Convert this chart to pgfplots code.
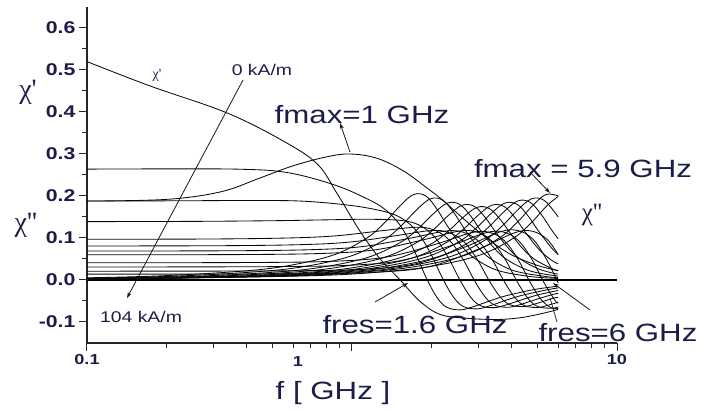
\documentclass[border=0pt]{standalone}
\usepackage{pgfplots}
\pgfplotsset{compat=1.18}
\usepackage{fontspec}
\setmainfont{Liberation Sans}[FakeStretch=1.25]
\newfontfamily\chifont{Liberation Serif}[Ligatures=TeXOff]
\usetikzlibrary{arrows.meta}
\definecolor{txt}{RGB}{28,28,72}
\definecolor{crv}{RGB}{10,10,10}
\newcommand{\fsz}[1]{\fontsize{#1}{#1}\selectfont}
\tikzset{cv/.style={crv, line width=0.85pt, smooth, tension=0.6, mark=none}}

\begin{document}
\begin{tikzpicture}
\useasboundingbox (-87pt,-69pt) rectangle (614pt,343pt);
\begin{axis}[
    scale only axis, width=530pt, height=336pt,
    xmode=log, xmin=0.1, xmax=10, ymin=-0.15, ymax=0.65,
    axis lines=left, axis line style={-, line width=1.2pt, black!85},
    tick align=outside,
    major tick length=8pt, minor tick length=5pt,
    tick style={line width=1pt, black!85},
    xtick={0.1,1,10}, xticklabels={0.1,{},10},
    minor xtick={0.2,0.3,0.4,0.5,0.6,0.7,0.8,0.9,2,3,4,5,6,7,8,9},
    ytick={-0.1,0,0.1,0.2,0.3,0.4,0.5,0.6},
    yticklabels={-0.1,0.0,0.1,0.2,0.3,0.4,0.5,0.6},
    minor ytick={-0.05,0.05,0.15,0.25,0.35,0.45,0.55},
    yticklabel style={font=\bfseries\fsz{17}, text=txt},
    xticklabel style={font=\bfseries\fsz{14.5}, text=txt},
]
% zero line
\addplot[line width=1.5pt, black] coordinates {(0.1,0) (10,0)};

% 0 kA/m: chi' and chi''
\addplot[cv] coordinates {(0.1,0.52) (0.173,0.462) (0.337,0.398) (0.55,0.331) (0.74,0.276) (0.88,0.205) (1.07,0.117) (1.27,0.052) (1.52,0) (1.8,-0.05) (2.15,-0.082) (2.7,-0.091) (3.5,-0.094) (4.3,-0.09) (5.2,-0.08) (6.0,-0.07)};
\addplot[cv] coordinates {(0.1,0.188) (0.2,0.192) (0.32,0.21) (0.45,0.243) (0.6,0.272) (0.8,0.293) (0.98,0.30) (1.24,0.29) (1.56,0.26) (1.92,0.219) (2.2,0.19) (2.7,0.14) (3.3,0.095) (4,0.06) (5,0.035) (6,0.022)};

% chi' for increasing field
\addplot[cv] coordinates {(0.1,0.264) (0.19,0.2645) (0.38,0.2637) (0.57,0.2558) (0.855,0.2268) (1.14,0.1933) (1.33,0.1684) (1.52,0.1301) (1.71,0.0722) (1.9,0.0073) (2.09,-0.0411) (2.28,-0.0649) (2.565,-0.0711) (2.85,-0.0642) (3.325,-0.0494) (3.8,-0.0378) (4.75,-0.024) (5.7,-0.0164) (6,-0.015)};
\addplot[cv] coordinates {(0.1,0.188) (0.22,0.1886) (0.44,0.1893) (0.66,0.1875) (0.99,0.1775) (1.32,0.1632) (1.54,0.147) (1.76,0.1153) (1.98,0.0632) (2.2,0.0032) (2.42,-0.0416) (2.64,-0.0635) (2.97,-0.0687) (3.3,-0.0617) (3.85,-0.0473) (4.4,-0.0362) (5.5,-0.0228) (6,-0.019)};
\addplot[cv] coordinates {(0.1,0.139) (0.255,0.1396) (0.51,0.1412) (0.765,0.143) (1.15,0.1446) (1.53,0.1418) (1.785,0.1312) (2.04,0.104) (2.295,0.0564) (2.55,0.0008) (2.805,-0.041) (3.06,-0.0613) (3.44,-0.0658) (3.825,-0.0591) (4.46,-0.0452) (5.1,-0.0345) (6,-0.025)};
\addplot[cv] coordinates {(0.1,0.097) (0.29,0.0976) (0.58,0.1001) (0.87,0.1052) (1.305,0.1175) (1.74,0.1255) (2.03,0.1196) (2.32,0.0961) (2.61,0.0516) (2.9,-0.0015) (3.19,-0.0414) (3.48,-0.0606) (3.915,-0.0647) (4.35,-0.0578) (5.075,-0.0441) (5.8,-0.0335) (6,-0.0325)};
\addplot[cv] coordinates {(0.1,0.081) (0.33,0.0817) (0.66,0.0844) (0.99,0.0906) (1.485,0.1061) (1.98,0.1176) (2.31,0.1134) (2.64,0.0917) (2.97,0.0489) (3.3,-0.0022) (3.63,-0.0408) (3.96,-0.0593) (4.455,-0.0631) (4.95,-0.0563) (5.775,-0.043) (6,-0.042)};
\addplot[cv] coordinates {(0.1,0.069) (0.375,0.0697) (0.75,0.0728) (1.125,0.0805) (1.69,0.1006) (2.25,0.1164) (2.625,0.1138) (3.0,0.0924) (3.375,0.0491) (3.75,-0.0031) (4.125,-0.0426) (4.5,-0.0615) (5.06,-0.0652) (5.625,-0.0582) (6,-0.0525)};
\addplot[cv] coordinates {(0.1,0.06) (0.42,0.0607) (0.84,0.0641) (1.26,0.0731) (1.89,0.0968) (2.52,0.1161) (2.94,0.1148) (3.36,0.0936) (3.78,0.0496) (4.2,-0.0039) (4.62,-0.0442) (5.04,-0.0636) (5.67,-0.0672) (6,-0.064)};
\addplot[cv] coordinates {(0.1,0.041) (0.47,0.0418) (0.94,0.0458) (1.41,0.0568) (2.115,0.087) (2.82,0.1125) (3.29,0.1137) (3.76,0.0935) (4.23,0.0491) (4.7,-0.0052) (5.17,-0.0463) (5.64,-0.066) (6,-0.068)};
\addplot[cv] coordinates {(0.1,0.031) (0.53,0.0319) (1.06,0.0362) (1.59,0.0485) (2.385,0.0827) (3.18,0.112) (3.71,0.1145) (4.24,0.0945) (4.77,0.0495) (5.3,-0.006) (5.83,-0.0481) (6,-0.055)};
\addplot[cv] coordinates {(0.1,0.021) (0.6,0.0219) (1.2,0.0268) (1.8,0.0408) (2.7,0.08) (3.6,0.1141) (4.2,0.1181) (4.8,0.098) (5.4,0.051) (6.0,-0.007)};
\addplot[cv] coordinates {(0.1,0.014) (0.68,0.0149) (1.36,0.0199) (2.04,0.0346) (3.06,0.0758) (4.08,0.1118) (4.76,0.1166) (5.44,0.0971) (6.0,0.0605)};

% chi'' for increasing field
\addplot[cv] coordinates {(0.1,0.0052) (0.19,0.0099) (0.38,0.0208) (0.57,0.0337) (0.855,0.060) (1.14,0.1003) (1.33,0.1371) (1.52,0.1769) (1.71,0.2037) (1.9,0.200) (2.09,0.1692) (2.28,0.1308) (2.565,0.0843) (2.85,0.0552) (3.325,0.0298) (3.8,0.0179) (4.75,0.008) (5.7,0.0043) (6,0.004)};
\addplot[cv] coordinates {(0.1,0.0042) (0.22,0.0094) (0.44,0.0198) (0.66,0.032) (0.99,0.057) (1.32,0.0953) (1.54,0.1303) (1.76,0.1681) (1.98,0.1935) (2.2,0.19) (2.42,0.1608) (2.64,0.1242) (2.97,0.0801) (3.3,0.0524) (3.85,0.0283) (4.4,0.017) (5.5,0.0076) (6,0.0057)};
\addplot[cv] coordinates {(0.1,0.0035) (0.255,0.0089) (0.51,0.0187) (0.765,0.0303) (1.15,0.054) (1.53,0.0903) (1.785,0.1234) (2.04,0.1592) (2.295,0.1833) (2.55,0.18) (2.805,0.1523) (3.06,0.1177) (3.44,0.0759) (3.825,0.0496) (4.46,0.0268) (5.1,0.0161) (6,0.0094)};
\addplot[cv] coordinates {(0.1,0.003) (0.29,0.0087) (0.58,0.0182) (0.87,0.0295) (1.305,0.0525) (1.74,0.0878) (2.03,0.12) (2.32,0.1548) (2.61,0.1782) (2.9,0.175) (3.19,0.1481) (3.48,0.1144) (3.915,0.0738) (4.35,0.0483) (5.075,0.0261) (5.8,0.0156) (6,0.0145)};
\addplot[cv] coordinates {(0.1,0.0025) (0.33,0.0084) (0.66,0.0177) (0.99,0.0286) (1.485,0.051) (1.98,0.0853) (2.31,0.1166) (2.64,0.1504) (2.97,0.1731) (3.3,0.17) (3.63,0.1439) (3.96,0.1112) (4.455,0.0717) (4.95,0.0469) (5.775,0.0253) (6,0.0235)};
\addplot[cv] coordinates {(0.1,0.0023) (0.375,0.0087) (0.75,0.0182) (1.125,0.0295) (1.69,0.0525) (2.25,0.0878) (2.625,0.12) (3.0,0.1548) (3.375,0.1782) (3.75,0.175) (4.125,0.1481) (4.5,0.1144) (5.06,0.0738) (5.625,0.0483) (6,0.0385)};
\addplot[cv] coordinates {(0.1,0.0021) (0.42,0.0089) (0.84,0.0187) (1.26,0.0303) (1.89,0.054) (2.52,0.0903) (2.94,0.1234) (3.36,0.1592) (3.78,0.1833) (4.2,0.18) (4.62,0.1523) (5.04,0.1177) (5.67,0.0759) (6,0.061)};
\addplot[cv] coordinates {(0.1,0.0019) (0.47,0.0092) (0.94,0.0193) (1.41,0.0312) (2.115,0.0555) (2.82,0.0928) (3.29,0.1269) (3.76,0.1636) (4.23,0.1884) (4.7,0.185) (5.17,0.1565) (5.64,0.121) (6,0.098)};
\addplot[cv] coordinates {(0.1,0.0018) (0.53,0.0094) (1.06,0.0198) (1.59,0.032) (2.385,0.057) (3.18,0.0953) (3.71,0.1303) (4.24,0.1681) (4.77,0.1935) (5.3,0.19) (5.83,0.1608) (6,0.150)};
\addplot[cv] coordinates {(0.1,0.0016) (0.6,0.0099) (1.2,0.0208) (1.8,0.0337) (2.7,0.060) (3.6,0.1003) (4.2,0.1371) (4.8,0.1769) (5.4,0.2037) (6.0,0.200)};
\addplot[cv] coordinates {(0.1,0.0014) (0.68,0.0099) (1.36,0.0208) (2.04,0.0337) (3.06,0.060) (4.08,0.1003) (4.76,0.1371) (5.44,0.1769) (6.0,0.199)};
\end{axis}

% annotations (pt offsets from the lower left corner of the axis)
\begin{scope}[every node/.style={inner sep=0pt, text=txt}]
\node[font=\bfseries\fsz{14.5}] at (211pt,-19pt) {1};
\node[font=\fsz{25}] at (246pt,-50pt) {f [ GHz ]};
\node[font=\chifont\fsz{28}] at (-59pt,251pt) {χ'};
\node[font=\chifont\fsz{28}] at (-61pt,118pt) {χ''};
\node[font=\chifont\fsz{14}] at (70pt,268pt) {χ'};
\node[font=\fsz{15.5}] at (175pt,273pt) {0 kA/m};
\node[font=\fsz{15.5}] at (54pt,26pt) {104 kA/m};
\node[font=\fsz{25}] at (275pt,228pt) {fmax=1 GHz};
\node[font=\fsz{25}] at (496pt,174pt) {fmax = 5.9 GHz};
\node[font=\chifont\fsz{25}] at (505pt,128pt) {χ''};
\node[font=\fsz{25}] at (328pt,18pt) {fres=1.6 GHz};
\node[font=\fsz{25}] at (531pt,10pt) {fres=6 GHz};
\end{scope}
\begin{scope}[line width=0.8pt, black!90, -{Stealth[length=6pt,width=4pt]}]
\draw (156pt,263pt) -- (40pt,45pt);
\draw (263pt,191pt) -- (253pt,220pt);
\draw (443pt,171pt) -- (463pt,150pt);
\draw (288pt,41pt) -- (321pt,60pt);
\draw (503pt,33pt) -- (466pt,60pt);
\end{scope}
\draw[line width=0.7pt, black!90] (470pt,21pt) -- (463pt,45pt);
\end{tikzpicture}
\end{document}
